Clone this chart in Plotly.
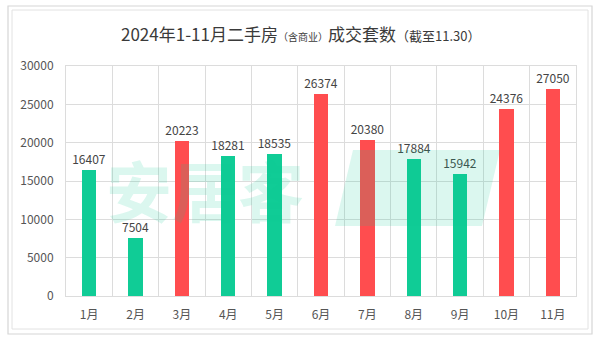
import plotly.graph_objects as go

months = ["1月", "2月", "3月", "4月", "5月", "6月", "7月", "8月", "9月", "10月", "11月"]
deals = [16407, 7504, 20223, 18281, 18535, 26374, 20380, 17884, 15942, 24376, 27050]
highlight = [False, False, True, False, False, True, True, False, False, True, True]
y_ticks = [0, 5000, 10000, 15000, 20000, 25000, 30000]

GREEN = "#10CC96"
RED = "#FF4D4F"
FONT = "Noto Sans CJK SC"

W, H = 602, 345
ML, MR, MT, MB = 66, 26, 66, 49
PW, PH = W - ML - MR, H - MT - MB


def px_x(px):
    return (px - ML) / PW


def px_y(py):
    return (H - MB - py) / PH


colors = [RED if h else GREEN for h in highlight]

fig = go.Figure(
    go.Bar(
        x=months,
        y=deals,
        marker=dict(color=colors, line=dict(width=0)),
        width=0.31,
        text=[str(v) for v in deals],
        textposition="outside",
        constraintext="none",
        textfont=dict(family=FONT, size=12, color="#444444"),
        cliponaxis=False,
    )
)

shapes = [
    # double frame around the chart
    dict(type="rect", xref="paper", yref="paper",
         x0=px_x(8), x1=px_x(592), y0=px_y(334), y1=px_y(6),
         line=dict(color="#d6d6d6", width=1.2), layer="below"),
    dict(type="rect", xref="paper", yref="paper",
         x0=px_x(12), x1=px_x(588), y0=px_y(329), y1=px_y(10),
         line=dict(color="#e2e2e2", width=1), layer="below"),
]

# slanted logo badge of the watermark
bx0, bx1, by0, by1, sl = 335, 500, 226, 150, 18
path = "M {a},{b} L {c},{d} L {e},{f} L {g},{h} Z".format(
    a=px_x(bx0 + sl), b=px_y(by1),
    c=px_x(bx1), d=px_y(by1),
    e=px_x(bx1 - sl), f=px_y(by0),
    g=px_x(bx0), h=px_y(by0),
)
shapes.append(dict(type="path", xref="paper", yref="paper", path=path,
                   fillcolor="rgba(16,204,150,0.15)",
                   line=dict(color="rgba(16,204,150,0.0)", width=0)))

annotations = [
    dict(text="2024年1-11月二手房<span style='font-size:10px'>（含商业）</span>成交套数"
              "<span style='font-size:13px'>（截至11.30）</span>",
         xref="paper", yref="paper", x=px_x(300), y=px_y(34),
         showarrow=False, xanchor="center", yanchor="middle",
         font=dict(family=FONT, size=17, color="#3a3a3a")),
    dict(text="<b>安居客</b>", xref="paper", yref="paper",
         x=px_x(205), y=px_y(188), showarrow=False,
         xanchor="center", yanchor="middle",
         font=dict(family=FONT, size=66, color="rgba(16,204,150,0.15)")),
]

fig.update_layout(
    width=W, height=H,
    margin=dict(l=ML, r=MR, t=MT, b=MB),
    paper_bgcolor="white", plot_bgcolor="white",
    showlegend=False,
    shapes=shapes,
    annotations=annotations,
    bargap=0.0,
)
fig.update_xaxes(
    type="category", tickson="boundaries", showgrid=True,
    gridcolor="#dcdcdc", gridwidth=1, ticks="", showline=True,
    linecolor="#dcdcdc", mirror=True, ticklabelstandoff=8,
    tickfont=dict(family=FONT, size=12, color="#555555"),
)
fig.update_yaxes(
    range=[0, 30000], tickvals=y_ticks, ticktext=[str(v) for v in y_ticks],
    showgrid=True, gridcolor="#dcdcdc", gridwidth=1, zeroline=False, ticks="",
    showline=True, linecolor="#dcdcdc", mirror=True, ticklabelstandoff=9,
    tickfont=dict(family=FONT, size=12, color="#555555"),
)

fig.write_html("out.html")
